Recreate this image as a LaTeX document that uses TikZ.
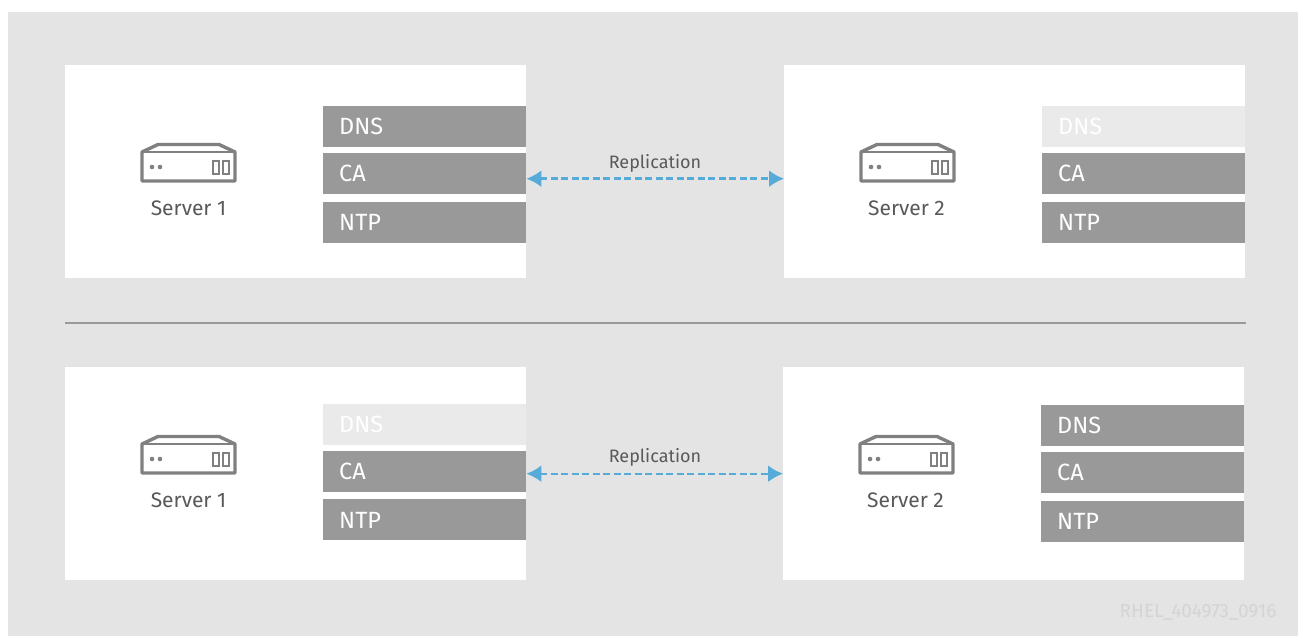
\documentclass[tikz,border=0pt]{standalone}
\usepackage{fontspec}
\setmainfont{Fira Sans}
\usetikzlibrary{arrows.meta}
\definecolor{bggray}{HTML}{E4E4E4}
\definecolor{rowgray}{HTML}{999999}
\definecolor{rowpale}{HTML}{EAEAEA}
\definecolor{icongray}{HTML}{808080}
\definecolor{txtgray}{HTML}{595959}
\definecolor{arrowblue}{HTML}{57ABD9}
\tikzstyle{serverbox} = [rectangle, anchor=north west, minimum width=461pt, minimum height=213pt, inner sep=0pt, fill=white]
\tikzstyle{service} = [rectangle, anchor=north west, minimum width=203pt, minimum height=41pt, inner sep=0pt, fill=rowgray]
\tikzstyle{paled} = [fill=rowpale]
\tikzstyle{rowtext} = [anchor=west, inner sep=0pt, text=white, font=\fontsize{23.5}{27}\selectfont]
\tikzstyle{label} = [text=txtgray, font=\fontsize{21}{25}\selectfont]
\tikzstyle{replabel} = [text=txtgray, font=\fontsize{18}{22}\selectfont]
\tikzstyle{arrow} = [line width=2.4pt, dash pattern=on 7pt off 3.5pt, arrowblue, {Latex[length=15pt,width=17pt]}-{Latex[length=15pt,width=17pt]}]
\tikzset{servericon/.pic={
  \draw [icongray, line width=3.4pt, line join=round] (-46,-11) -- (-30,-18.5) -- (31,-18.5) -- (47,-11) -- (47,18) -- (-46,18) -- cycle;
  \draw [icongray, line width=2.5pt] (-46,-11) -- (47,-11);
  \fill [icongray] (-36,4) circle (2.3pt) (-28,4) circle (2.3pt);
  \draw [icongray, line width=1.8pt] (25,-2) rectangle (31,11) (35,-2) rectangle (41,11);
}}
\begin{document}
\begin{tikzpicture}[x=1pt, y=-1pt]
\useasboundingbox (0,0) rectangle (1298,636);
\fill [bggray] (8,12) rectangle (1298,636);

%first row
\node (boxA) [serverbox] at (65,65) {};
\node (boxB) [serverbox] at (784,65) {};
\node (dnsA) [service] at (323,106) {};
\node (caA) [service] at (323,153) {};
\node (ntpA) [service] at (323,202) {};
\node (dnsB) [service, paled] at (1042,106) {};
\node (caB) [service] at (1042,153) {};
\node (ntpB) [service] at (1042,202) {};
\node [rowtext] at (339,126.5) {DNS};
\node [rowtext] at (339,173.5) {CA};
\node [rowtext] at (339,222.5) {NTP};
\node [rowtext] at (1058,126.5) {DNS};
\node [rowtext] at (1058,173.5) {CA};
\node [rowtext] at (1058,222.5) {NTP};
\pic at (188,163) {servericon};
\pic at (907,163) {servericon};
\node (srvA) [label] at (188.5,208) {Server 1};
\node (srvB) [label] at (906.5,208) {Server 2};
\node (replA) [replabel] at (655,163.5) {Replication};

%divider
\coordinate (divL) at (65,323);
\coordinate (divR) at (1246,323);
\draw [rowgray, line width=2.5pt] (divL) -- (divR);

%second row
\node (boxC) [serverbox] at (65,367) {};
\node (boxD) [serverbox] at (783,367) {};
\node (dnsC) [service, paled] at (323,404) {};
\node (caC) [service] at (323,451) {};
\node (ntpC) [service] at (323,499) {};
\node (dnsD) [service] at (1041,405) {};
\node (caD) [service] at (1041,452) {};
\node (ntpD) [service] at (1041,501) {};
\node [rowtext] at (339,424.5) {DNS};
\node [rowtext] at (339,471) {CA};
\node [rowtext] at (339,520.5) {NTP};
\node [rowtext] at (1057,425.5) {DNS};
\node [rowtext] at (1057,472.5) {CA};
\node [rowtext] at (1057,521.5) {NTP};
\pic at (188,455) {servericon};
\pic at (906,455) {servericon};
\node (srvC) [label] at (188.5,500) {Server 1};
\node (srvD) [label] at (905.5,500) {Server 2};
\node (replB) [replabel] at (655,457.5) {Replication};
\node (stamp) [text=black!17, font=\fontsize{19}{22}\selectfont] at (1198,612) {RHEL\_404973\_0916};

%arrows
\draw [arrow] ([yshift=-7pt]boxA.east) -- ([yshift=-7pt]boxB.west);
\draw [arrow] (boxC.east) -- (boxD.west);
\end{tikzpicture}
\end{document}
